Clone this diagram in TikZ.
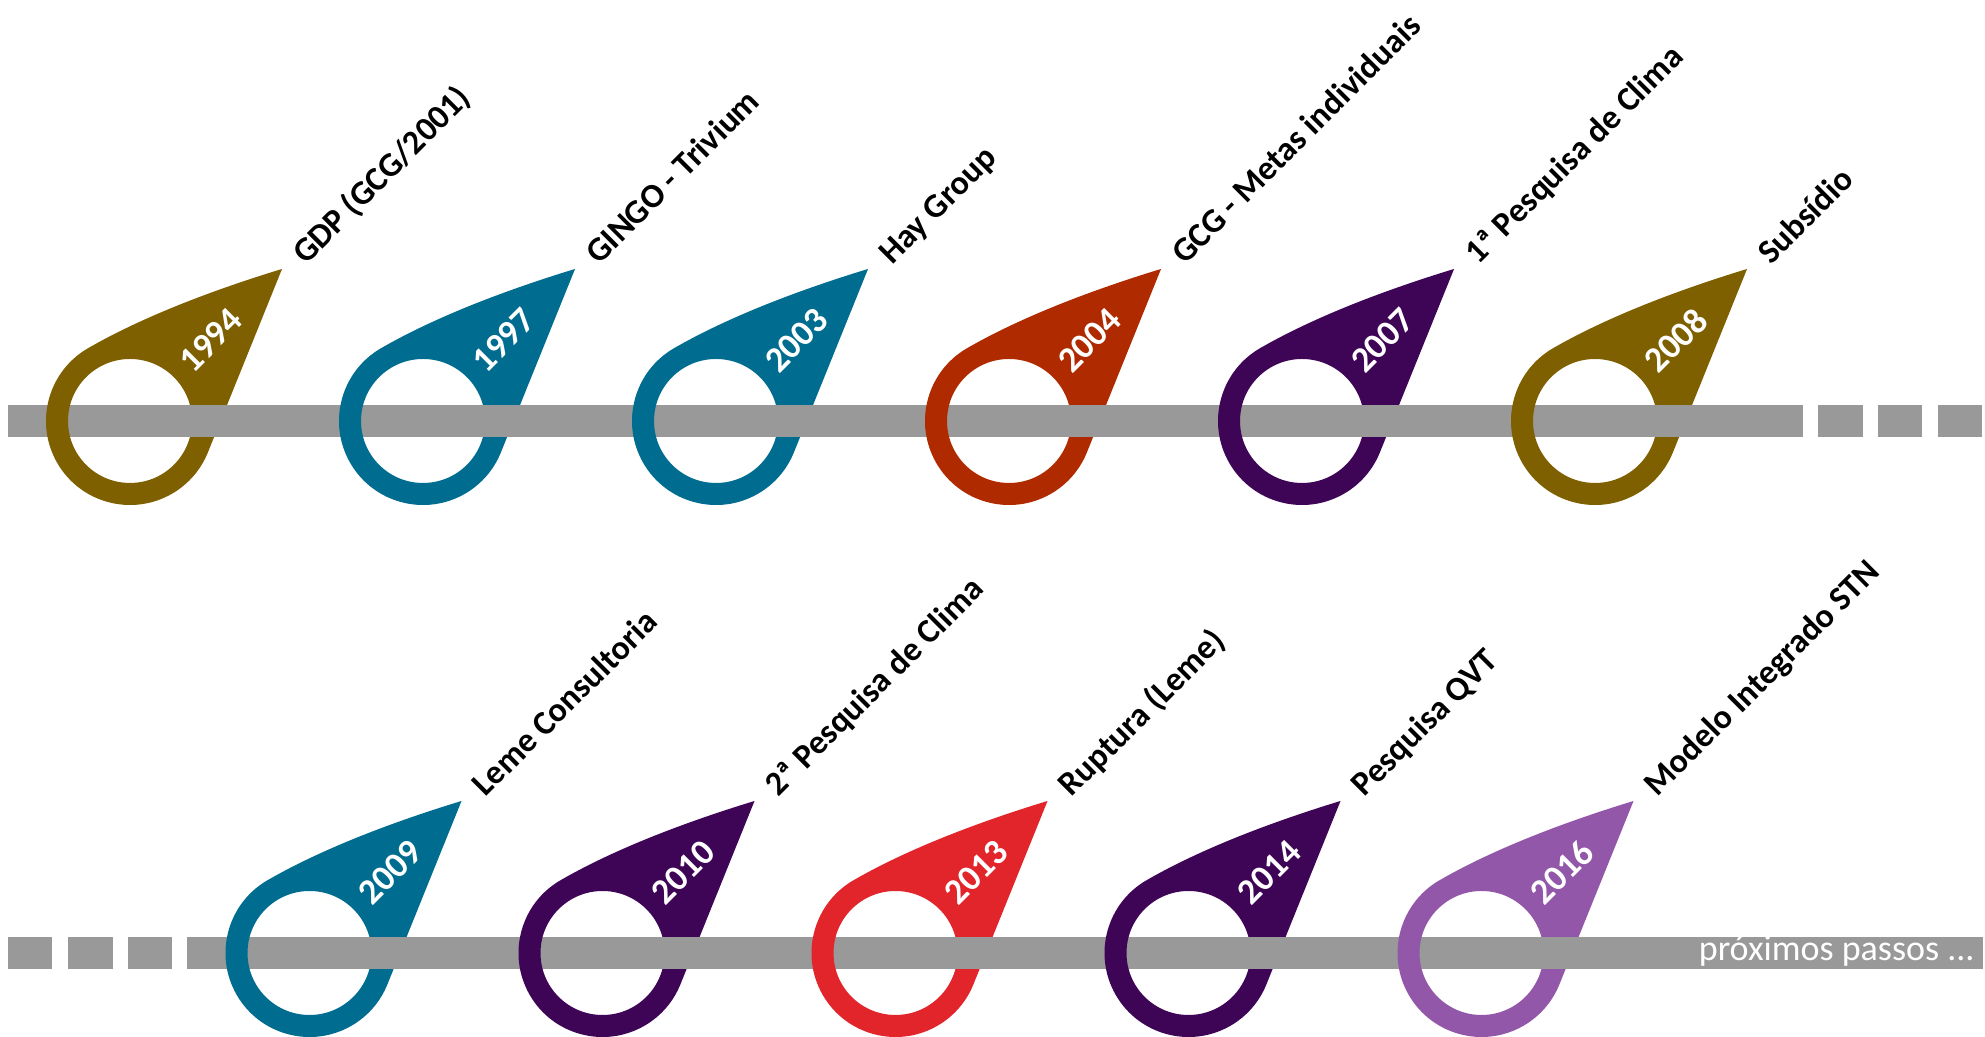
\documentclass[tikz,border=0pt]{standalone}
\usepackage{fontspec}
\setmainfont{Carlito}
\begin{document}
\begin{tikzpicture}[x=0.5pt,y=0.5pt]
\definecolor{bronze}{HTML}{7F6000}
\definecolor{petrol}{HTML}{006C8F}
\definecolor{rust}{HTML}{B02A00}
\definecolor{plum}{HTML}{3E0556}
\definecolor{scarlet}{HTML}{E2242B}
\definecolor{lilac}{HTML}{9357AA}
\definecolor{bargray}{HTML}{999999}
\tikzset{
  yeartext/.style={text=white, font=\bfseries\fontsize{18}{18}\selectfont, rotate=45, inner sep=0pt},
  eventtext/.style={text=black, font=\bfseries\fontsize{17}{17}\selectfont, rotate=45, anchor=base west, inner sep=0pt},
  nexttext/.style={text=white, font=\fontsize{18}{18}\selectfont, anchor=base east, inner sep=0pt},
}
\useasboundingbox (0,0) rectangle (1985,1037);

% timeline bars
\fill[bargray] (8,600) rectangle (1803,632);
\fill[bargray] (1818,600) rectangle (1863,632);
\fill[bargray] (1878,600) rectangle (1922,632);
\fill[bargray] (1938,600) rectangle (1982,632);

\fill[bargray] (8,68) rectangle (52,100);
\fill[bargray] (68,68) rectangle (113,100);
\fill[bargray] (128,68) rectangle (172,100);
\fill[bargray] (187,68) rectangle (1983,100);

% one teardrop marker threaded on the bar: name, x, y, colour, year, event
\newcommand\yearpin[6]{%
  \begin{scope}[shift={(#2,#3)}]
    \fill[#4, even odd rule, rotate=45]
      (32.95,-77.26) -- (215,0) .. controls (162,28.2) and (89.3,63) .. (21.74,81.14)
      arc[start angle=75, end angle=293.1, radius=84] -- cycle
      (0,0) circle[radius=62];
    \fill[bargray] (0,-16) rectangle (100,16);
    \node[yeartext] (#1y) at (45:114) {#5};
    \node[eventtext] (#1) at (176,155) {#6};
  \end{scope}}

\yearpin{e1994}{130}{616}{bronze}{1994}{GDP (GCG/2001)}
\yearpin{e1997}{423}{616}{petrol}{1997}{GINGO - Trivium}
\yearpin{e2003}{716}{616}{petrol}{2003}{Hay Group}
\yearpin{e2004}{1009}{616}{rust}{2004}{GCG - Metas individuais}
\yearpin{e2007}{1302}{616}{plum}{2007}{1ª Pesquisa de Clima}
\yearpin{e2008}{1595}{616}{bronze}{2008}{Subsídio}

\yearpin{e2009}{309.5}{84}{petrol}{2009}{Leme Consultoria}
\yearpin{e2010}{602.5}{84}{plum}{2010}{2ª Pesquisa de Clima}
\yearpin{e2013}{895.5}{84}{scarlet}{2013}{Ruptura (Leme)}
\yearpin{e2014}{1188.5}{84}{plum}{2014}{Pesquisa QVT}
\yearpin{e2016}{1481.5}{84}{lilac}{2016}{Modelo Integrado STN}

\node[nexttext] (next) at (1975,76) {próximos passos ...};
\end{tikzpicture}
\end{document}
